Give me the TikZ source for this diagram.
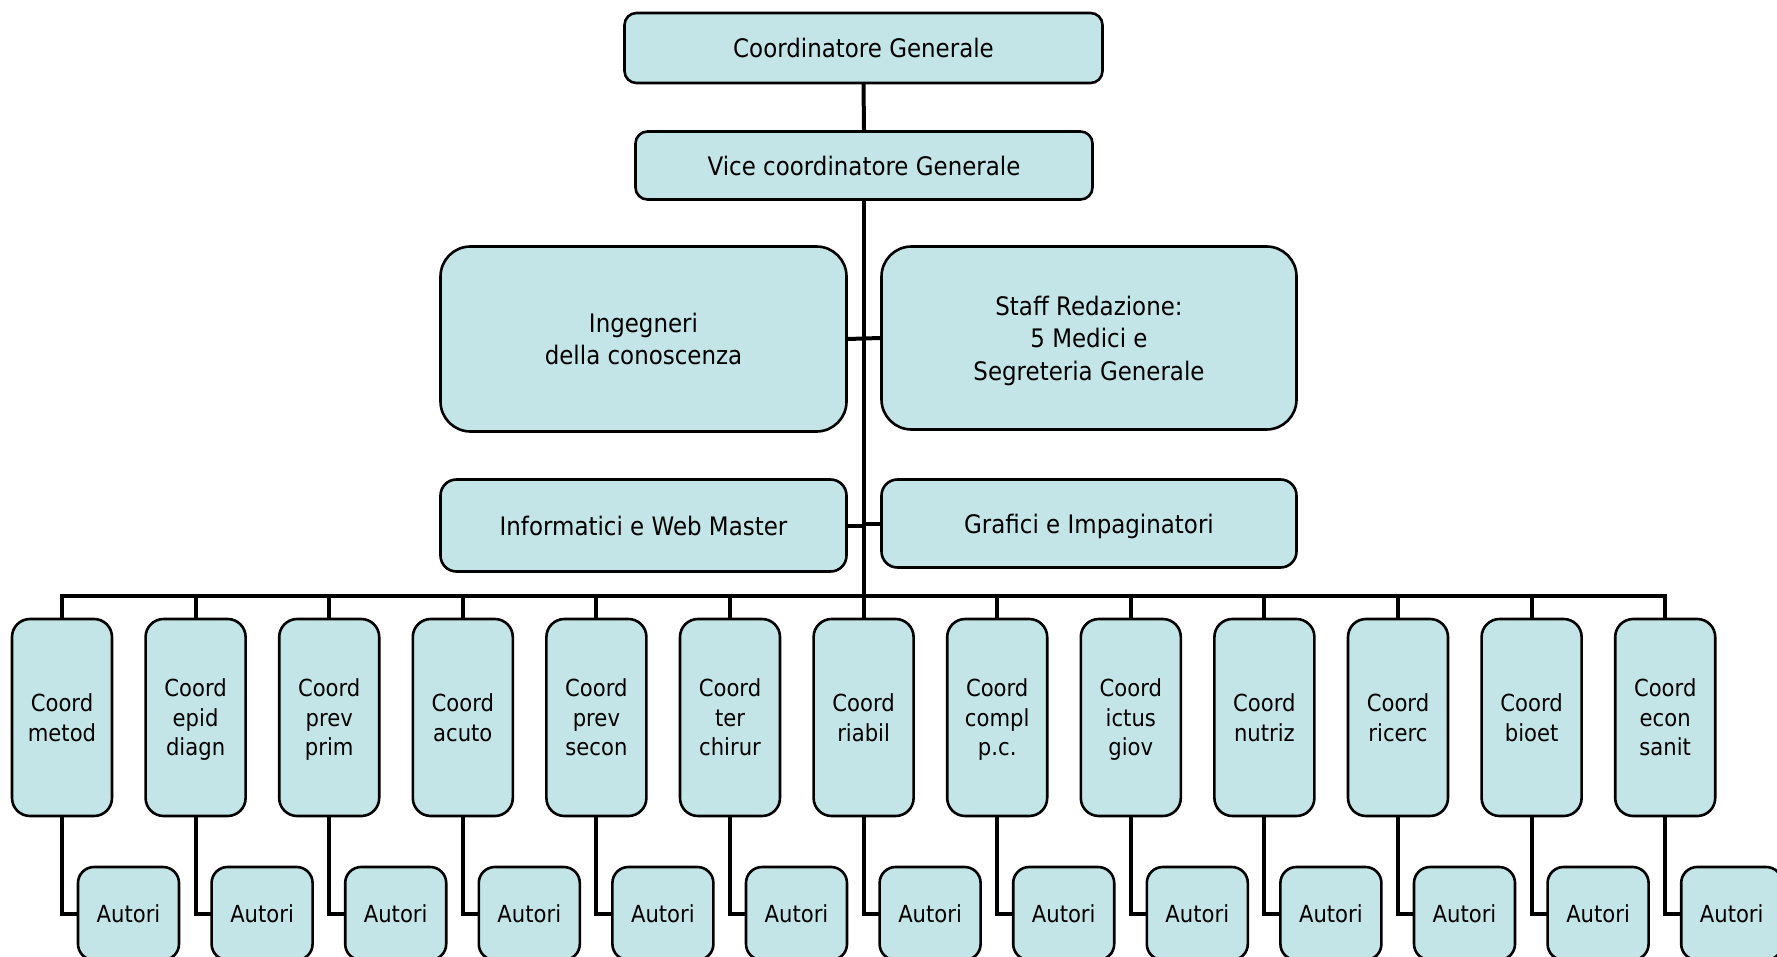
\documentclass[tikz,border=0pt]{standalone}
\usepackage{fontspec}
\setmainfont{DejaVu Sans}[FakeStretch=0.9]
\definecolor{boxfill}{RGB}{196,229,231}
\pgfdeclarelayer{background}
\pgfsetlayers{background,main}
\tikzset{
  orgbox/.style={draw=black, line width=2.6pt, fill=boxfill, align=center,
    inner sep=0pt, text=black, text depth=0pt},
  topfont/.style={font=\fontsize{25.5}{32.5}\selectfont},
  lowfont/.style={font=\fontsize{23.5}{29.5}\selectfont},
  headbox/.style={orgbox, topfont, rounded corners=12pt},
  staffbox/.style={orgbox, topfont, rounded corners=30pt},
  slimbox/.style={orgbox, topfont, rounded corners=16pt},
  coordbox/.style={orgbox, lowfont, rounded corners=18pt,
    minimum width=100pt, minimum height=197pt},
  authbox/.style={orgbox, lowfont, rounded corners=16pt,
    minimum width=101pt, minimum height=93pt},
  link/.style={line width=4pt, line cap=rect}
}
\begin{document}
\begin{tikzpicture}[x=1pt, y=-1pt]
\clip (0,0) rectangle (1777,957);

% top of the chart
\node[headbox, minimum width=478pt, minimum height=70pt] (cg) at (863.5,48) {Coordinatore Generale};
\node[headbox, minimum width=457pt, minimum height=68pt] (vcg) at (864,165.5) {Vice coordinatore Generale};

% staff units beside the trunk
\node[staffbox, minimum width=406pt, minimum height=185pt] (ing) at (643.5,339) {Ingegneri\\della conoscenza};
\node[staffbox, minimum width=415pt, minimum height=183pt] (red) at (1089,338) {Staff Redazione:\\5 Medici e\\Segreteria Generale};
\node[slimbox, minimum width=406pt, minimum height=92pt] (inf) at (643.5,525.5) {Informatici e Web Master};
\node[slimbox, minimum width=415pt, minimum height=88pt] (graf) at (1089,523.5) {Grafici e Impaginatori};

% coordinators and their authors
\foreach \i/\txt in {0/{Coord\\metod}, 1/{Coord\\epid\\diagn}, 2/{Coord\\prev\\prim},
    3/{Coord\\acuto}, 4/{Coord\\prev\\secon}, 5/{Coord\\ter\\chirur},
    6/{Coord\\riabil}, 7/{Coord\\compl\\p.c.}, 8/{Coord\\ictus\\giov},
    9/{Coord\\nutriz}, 10/{Coord\\ricerc}, 11/{Coord\\bioet}, 12/{Coord\\econ\\sanit}} {
  \node[coordbox] (c\i) at ({62+133.6*\i},717.5) {\txt};
  \node[authbox] (a\i) at ({128.5+133.6*\i},913.5) {Autori};
}

% connectors
\coordinate (busL) at (62,596);
\coordinate (busR) at (1665,596);
\begin{pgfonlayer}{background}
  \draw[link] (cg.south) -- (vcg.north);
  \draw[link] (vcg.south) -- (vcg.south |- busL);
  \draw[link] (busL) -- (busR);
  \draw[link] (ing.east) -- (red.west);
  \draw[link] (inf.east) -- (inf.east -| vcg.south);
  \draw[link] (graf.west) -- (graf.west -| vcg.south);
  \foreach \i in {0,...,12} {
    \draw[link] (c\i.north) -- (c\i.north |- busL);
    \draw[link] (c\i.south) |- (a\i.west);
  }
\end{pgfonlayer}
\end{tikzpicture}
\end{document}
